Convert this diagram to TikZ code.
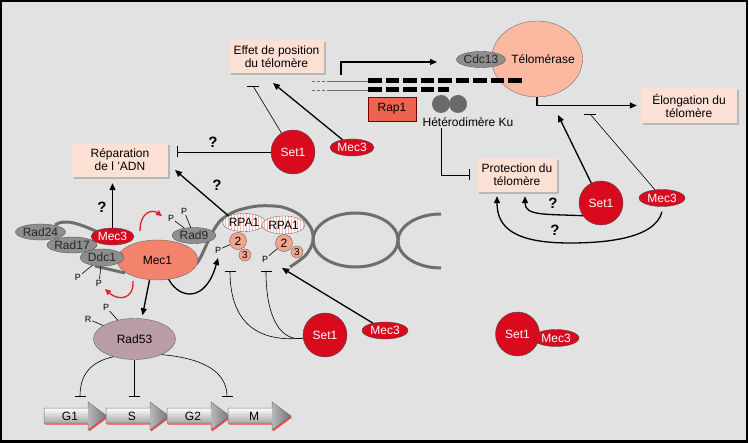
\documentclass[tikz,border=0pt]{standalone}
\usepackage{fontspec}
\setmainfont{Liberation Sans}
\usetikzlibrary{shapes.geometric,arrows.meta,patterns,shadows,calc}
\definecolor{bg}{HTML}{E2E2E2}
\definecolor{boxfill}{HTML}{FCE0D4}
\definecolor{setred}{HTML}{DA0A1E}
\definecolor{salmon}{HTML}{F4836D}
\definecolor{telo}{HTML}{FBB9A2}
\definecolor{nodegray}{HTML}{8E8E8E}
\definecolor{mauve}{HTML}{BA9DA8}
\definecolor{dnagray}{HTML}{6E6E6E}
\definecolor{rapred}{HTML}{EE6250}
\definecolor{smallc}{HTML}{F6A48C}
\definecolor{arrred}{HTML}{E0202A}
\definecolor{kugray}{HTML}{6A6A6A}
\begin{document}
\begin{tikzpicture}[x=1pt,y=-1pt,
  every node/.style={font=\fontsize{12}{13}\selectfont},
  lbl/.style={rectangle, fill=boxfill, align=center, inner sep=0pt,
    drop shadow={shadow xshift=1.6pt, shadow yshift=-1.6pt, fill=black!28, opacity=1}},
  redc/.style={circle, fill=setred, draw=black!70, text=white, minimum size=44pt, inner sep=0pt},
  rede/.style={ellipse, fill=setred, draw=black!70, text=white, minimum width=46pt, minimum height=17pt, inner sep=0pt},
  grayn/.style={ellipse, fill=nodegray, draw=black!65, text=black!85, minimum height=16pt, inner sep=0pt},
  dna/.style={draw=dnagray, line width=3pt},
  act/.style={draw=black, line width=1.3pt, -{Triangle[length=7pt,width=6pt]}},
  inh/.style={draw=black, line width=0.6pt, -{Bar[width=11pt,line width=0.8pt]}},
  thinl/.style={draw=black, line width=0.6pt},
  redarr/.style={draw=arrred, line width=1.3pt, -{Triangle[length=6pt,width=5.5pt]}},
  pl/.style={font=\fontsize{9}{10}\selectfont, inner sep=0.8pt},
  qm/.style={font=\fontsize{15}{16}\selectfont\bfseries, inner sep=0pt},
  rpa/.style={ellipse, draw=black!55, preaction={fill=white}, pattern=vertical lines, pattern color=red!30, minimum width=42pt, minimum height=18pt, inner sep=0pt},
  smc/.style={circle, fill=smallc, draw=black!60, inner sep=0pt}
]
\useasboundingbox (0,0) rectangle (749,443);
\fill[white] (0,0) rectangle (749,443);
\fill[bg] (1,1) rectangle (747,441);
\draw[line width=2.2pt] (1.1,1.1) rectangle (746.9,441.4);

% ---------- DNA strands (behind) ----------
\draw[dna] (55,225) .. controls (65,218) and (80,224) .. (100,233);
\draw[dna] (95,266) -- (125,273);
\draw[dna] plot[smooth] coordinates {(185,268) (197,263) (205,248) (212,233) (221,220) (236,211) (258,206) (282,207) (300,215) (311,228) (313,241) (306,255) (290,267)};
\draw[dna] (355.5,240) ellipse [x radius=42.5, y radius=27];
\draw[dna] (441,214) arc[start angle=270, end angle=90, x radius=43, y radius=27];
\draw[dnagray, line width=0.7pt, dash pattern=on 3pt off 2pt] (312,81) -- (330,81);
\draw[dnagray, line width=0.7pt, dash pattern=on 3pt off 2pt] (312,90) -- (330,90);
\draw[dnagray, line width=0.7pt] (330,81) -- (368,81);
\draw[dnagray, line width=0.7pt] (330,90) -- (368,90);

% ---------- label boxes ----------
\node[lbl, minimum width=95pt, minimum height=33pt] (effet) at (276.5,56.5) {Effet de position\\du télomère};
\node[lbl, minimum width=96pt, minimum height=34pt] (repar) at (120,160) {Réparation\\de l ’ADN};
\node[lbl, minimum width=96pt, minimum height=35pt] (elong) at (689,105.5) {Élongation du\\télomère};
\node[lbl, minimum width=80pt, minimum height=34pt] (prot) at (517,175) {Protection du\\télomère};

% ---------- telomere ----------
\node[ellipse, fill=telo, draw=black!55, minimum width=91pt, minimum height=76pt, inner sep=0pt] (telo) at (537,59) {};
\node[inner sep=0pt] (telot) at (543,59) {Télomérase};
\node[grayn, minimum width=46pt] (cdc13) at (481,59.5) {Cdc13};
\draw[line width=5pt, dash pattern=on 13.5pt off 4pt] (368,81) -- (524,81);
\draw[line width=5pt, dash pattern=on 13.5pt off 4pt] (368,90) -- (449,90);
\node[rectangle, fill=rapred, draw=red!45!black, minimum width=48pt, minimum height=24pt, inner sep=0pt] (rap1) at (392,109) {Rap1};
\node[circle, fill=kugray, minimum size=18pt, inner sep=0pt] (ku1) at (441,104) {};
\node[circle, fill=kugray, minimum size=18pt, inner sep=0pt] (ku2) at (458,104) {};
\node[inner sep=1pt] (kut) at (468,122) {Hétérodimère Ku};

% ---------- Set1 / Mec3 ----------
\node[redc] (s1a) at (601,203) {Set1};
\node[rede] (m3a) at (662,198) {Mec3};
\node[redc] (s1b) at (293,152) {Set1};
\node[rede, minimum width=44pt] (m3b) at (352,147.5) {Mec3};
\node[redc] (s1c) at (325,335) {Set1};
\node[rede] (m3d) at (385,330.5) {Mec3};
\node[redc] (s1d) at (517.5,334) {Set1};
\node[rede] (m3e) at (556,338) {Mec3};

% ---------- left complex ----------
\node[ellipse, fill=salmon, draw=black!60, minimum width=81pt, minimum height=40pt, inner sep=0pt] (mec1) at (157.5,260) {Mec1};
\node[grayn, minimum width=43pt] (rad24) at (40.5,232) {Rad24};
\node[grayn, minimum width=40pt] (rad17) at (72,245) {Rad17};
\node[grayn, minimum width=44pt, minimum height=17pt] (ddc1) at (102,257.5) {Ddc1};
\node[rede, minimum width=43pt] (m3c) at (112.5,236.5) {Mec3};
\node[grayn, minimum width=44pt] (rad9) at (194,235.5) {Rad9};
\node[ellipse, fill=mauve, draw=black!60, minimum width=82pt, minimum height=41pt, inner sep=0pt] (rad53) at (134.5,339) {Rad53};

% RPA
\node[rpa] (rpa1a) at (244,222.5) {RPA1};
\node[rpa, minimum width=43pt] (rpa1b) at (283.5,225) {RPA1};
\node[smc, minimum size=17pt] (c2a) at (238,241) {2};
\node[smc, minimum size=12pt, font=\fontsize{10}{11}\selectfont] (c3a) at (245,255) {3};
\node[smc, minimum size=17pt] (c2b) at (284,243) {2};
\node[smc, minimum size=12pt, font=\fontsize{10}{11}\selectfont] (c3b) at (297,252) {3};

% P labels
\node[pl] (pa) at (218,250) {P};
\node[pl] (pb) at (265,259) {P};
\node[pl] (pr1) at (171,218) {P};
\node[pl] (pr2) at (184,211) {P};
\node[pl] (pd1) at (78,277) {P};
\node[pl] (pd2) at (99,283) {P};
\node[pl] (pk1) at (88,319) {R};
\node[pl] (pk2) at (106,307) {P};
\draw[thinl] (pa) -- (c2a);
\draw[thinl] (pb) -- (c2b);
\draw[thinl] (pr1) -- (rad9);
\draw[thinl] (pr2) -- (rad9);
\draw[thinl] (pd1) -- (ddc1);
\draw[thinl] (pd2) -- (ddc1);
\draw[thinl] (pk1) -- (rad53);
\draw[thinl] (pk2) -- (rad53);

% red arrows
\coordinate (ra1) at (140,231);
\coordinate (ra2) at (162,216);
\coordinate (rb1) at (133,281);
\coordinate (rb2) at (105,289);
\draw[redarr] (ra1) .. controls (140,212) and (152,209) .. (ra2);
\draw[redarr] (rb1) .. controls (134,300) and (118,301) .. (rb2);

% ---------- connectors ----------
\coordinate (effc) at (341,75);
\coordinate (effend) at (437,62);
\draw[act] (effc) |- (effend);
\draw[act] (telo.south) |- ([xshift=-4pt]elong.west);
\draw[inh] (ku1 |- kut.south) |- ([xshift=-7pt]prot.west);

% top right Set1/Mec3
\coordinate (tgA) at (558,115);
\coordinate (tgB) at (590,114);
\draw[act] (s1a) -- (tgA);
\draw[thinl] (m3a) -- (tgB);
\draw[line width=0.8pt] ([xshift=-6pt]tgB) -- ([xshift=6pt]tgB);
\draw[act] (s1a.215) .. controls (545,214) and (525,216) .. ([xshift=8pt,yshift=-4pt]prot.south);
\draw[act] ([yshift=-5pt]m3a.south) .. controls (655,240) and (600,243) .. (570,243) .. controls (515,243) and (497,228) .. ([xshift=-20pt,yshift=-4pt]prot.south);
\node[qm] (q1) at (553,203) {?};
\node[qm] (q2) at (555,230) {?};

% top middle Set1/Mec3
\coordinate (tgC) at (253,86);
\coordinate (tgD) at (273,83);
\draw[thinl] (s1b) -- (tgC);
\draw[line width=0.8pt] ([xshift=-6pt]tgC) -- ([xshift=6pt]tgC);
\draw[act] (m3b) -- (tgD);
\coordinate (tgE) at (177,152);
\draw[inh] (s1b.west) -- (tgE);
\node[qm] (q3) at (213,142) {?};

% RPA -> repair
\coordinate (tgF) at (175,170);
\draw[act] (rpa1a.north west) -- (tgF);
\node[qm] (q4) at (217,185) {?};

% Mec3 (left) -> repair
\draw[act] (m3c.north) -- ([yshift=-6pt]m3c.north |- repar.south);
\node[qm] (q5) at (102,207) {?};

% Mec1 -> Rad53, Mec1 -> P
\draw[act] ([xshift=-8pt]mec1.south) -- ([xshift=8pt,yshift=3pt]rad53.north);
\coordinate (tgH) at (218,258);
\draw[act] (mec1.300) .. controls (180,300) and (206,302) .. (tgH);

% Set1 / Mec3 middle
\coordinate (barA) at (230,271);
\coordinate (barB) at (266,271);
\draw[inh] (s1c.188) .. controls (255,343) and (230,320) .. (barA);
\draw[inh] (s1c.188) .. controls (282,342) and (266,320) .. (barB);
\coordinate (tgI) at (282,268);
\draw[act] (m3d) -- (tgI);

% Rad53 -> cell cycle
\coordinate (cb1) at (80,397);
\coordinate (cb2) at (134.5,397);
\coordinate (cb3) at (227,397);
\draw[inh] (rad53.220) .. controls (90,362) and (80,375) .. (cb1);
\draw[inh] (rad53.south) -- (cb2);
\draw[inh] (rad53.330) .. controls (200,358) and (227,370) .. (cb3);

% cell cycle arrows
\foreach \x/\t/\n in {44/G1/g1,106/S/ss,167/G2/g2,228/M/mm}{
  \fill[red!75] (\x+1,409.5) -- (\x+45,409.5) -- (\x+45,403.5) -- (\x+64,417.5) -- (\x+45,431.5) -- (\x+45,424.5) -- (\x+1,424.5) -- cycle;
  \shade[top color=white, bottom color=gray!70] (\x,408) rectangle (\x+44,423);
  \shade[left color=gray!55, right color=gray!90!black] (\x+44,402) -- (\x+63,416) -- (\x+44,430) -- cycle;
  \draw[black!55, line width=0.5pt] (\x,408) -- (\x+44,408) -- (\x+44,402) -- (\x+63,416) -- (\x+44,430) -- (\x+44,423) -- (\x,423) -- cycle;
  \node[inner sep=0pt] (\n) at (\x+26,416) {\t};
}
\end{tikzpicture}
\end{document}
